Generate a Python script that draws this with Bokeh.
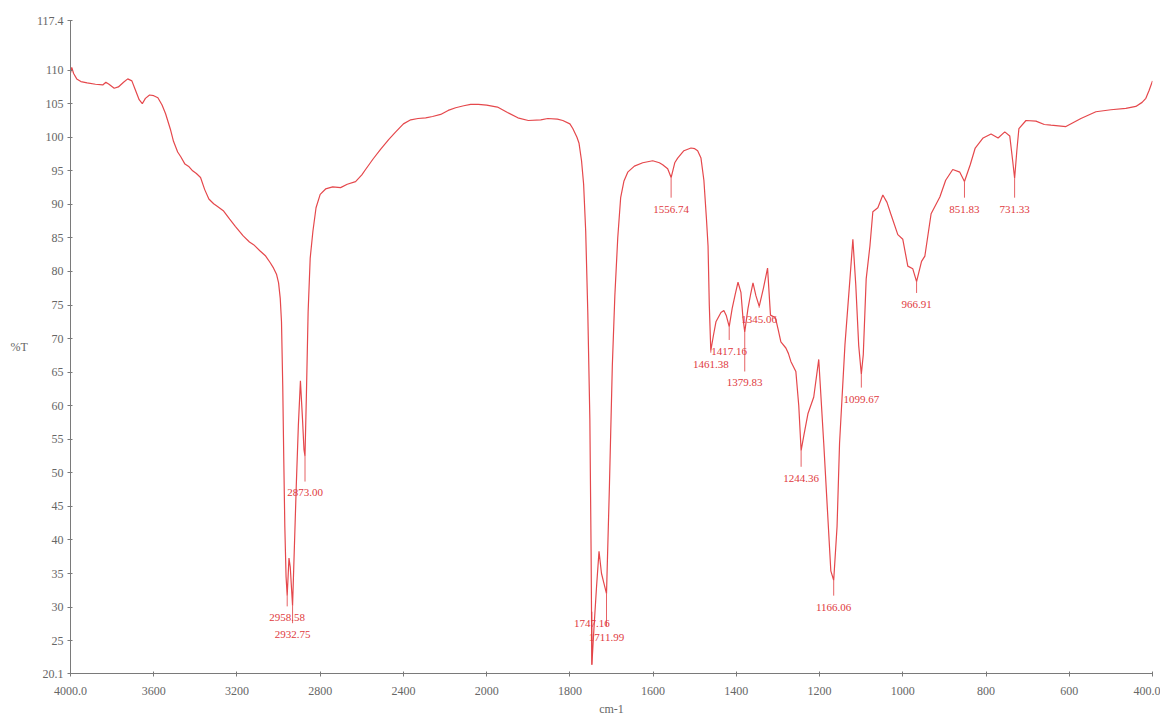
import numpy as np
from bokeh.plotting import figure
from bokeh.models import ColumnDataSource, Range1d, FixedTicker
from bokeh.core.properties import value
from bokeh.embed import file_html
from bokeh.resources import INLINE

# ---------------- data ----------------
wavenumber = [4000, 3994, 3985, 3970, 3950, 3920, 3880, 3845, 3830, 3815, 3790, 3770, 3745, 3725,
              3705, 3690, 3670, 3655, 3640, 3620, 3600, 3580, 3560, 3543, 3520, 3505, 3485, 3470,
              3450, 3430, 3413, 3395, 3375, 3355, 3335, 3312, 3290, 3264, 3235, 3207, 3170, 3140,
              3120, 3090, 3062, 3040, 3024, 3010, 3000, 2992, 2986, 2980, 2975, 2970, 2964,
              2958.58, 2950, 2944, 2932.75, 2925, 2915, 2905, 2895, 2885, 2878, 2873.0, 2866,
              2858, 2848, 2835, 2820, 2800, 2774, 2740, 2702, 2670, 2630, 2600, 2582, 2545, 2510,
              2470, 2437, 2400, 2365, 2330, 2293, 2260, 2221, 2185, 2149, 2110, 2077, 2040, 2000,
              1974, 1950, 1925, 1900, 1870, 1853, 1830, 1817, 1800, 1793, 1783, 1778, 1772, 1767,
              1762, 1757, 1752, 1749, 1747.16, 1742, 1736, 1730, 1724, 1718, 1711.99, 1705, 1698,
              1692, 1685, 1678, 1670, 1661, 1645, 1625, 1601, 1585, 1577, 1565, 1556.74, 1548,
              1541, 1526, 1509, 1500, 1493, 1485, 1478, 1472, 1468, 1465, 1461.38, 1455, 1449,
              1437, 1430, 1424, 1417.16, 1410, 1403, 1396, 1389, 1384, 1379.83, 1372, 1366, 1360,
              1353, 1345.06, 1335, 1325, 1318, 1306, 1300, 1293, 1281, 1275, 1269, 1257, 1250,
              1244.36, 1238, 1228, 1214, 1202, 1190, 1173, 1166.06, 1158, 1152, 1139, 1127, 1120,
              1113, 1106, 1099.67, 1095, 1088, 1079, 1072, 1060, 1048, 1038, 1029, 1012, 1000,
              988, 976, 966.91, 955, 947, 932, 911, 897, 880, 863, 851.83, 838, 826, 807, 788,
              771, 755, 743, 736, 731.33, 726, 721, 704, 680, 660, 644, 608, 590, 572, 536, 500,
              464, 440, 425, 416, 408, 400]
transmittance = [109.6, 110.4, 109.5, 108.7, 108.3, 108.1, 107.9, 107.8, 108.2, 107.9, 107.3, 107.5,
                 108.2, 108.7, 108.4, 107.2, 105.6, 105.0, 105.8, 106.3, 106.2, 105.9, 104.8, 103.5,
                 101.2, 99.4, 97.8, 97.1, 96.0, 95.6, 95.0, 94.6, 94.0, 92.2, 90.8, 90.1, 89.6, 89.0,
                 87.8, 86.7, 85.3, 84.4, 84.0, 83.1, 82.3, 81.3, 80.5, 79.6, 78.3, 76.0, 72.5, 63.0,
                 52.0, 42.0, 34.5, 31.7, 37.3, 36.0, 30.2, 38.0, 48.0, 57.0, 63.7, 58.0, 53.5, 52.5,
                 62.0, 74.0, 82.0, 86.0, 89.5, 91.5, 92.3, 92.6, 92.5, 93.0, 93.4, 94.4, 95.2, 96.8,
                 98.2, 99.7, 100.8, 102.0, 102.6, 102.8, 102.9, 103.1, 103.4, 104.0, 104.4, 104.7,
                 104.9, 104.9, 104.8, 104.5, 103.7, 102.9, 102.5, 102.6, 102.8, 102.7, 102.5, 102.0,
                 101.3, 100.0, 99.1, 96.5, 93.0, 86.0, 74.0, 58.0, 38.0, 21.4, 27.0, 33.0, 38.3,
                 35.0, 33.5, 32.0, 48.0, 66.0, 76.3, 85.0, 91.0, 93.5, 94.8, 95.7, 96.2, 96.5, 96.2,
                 95.9, 95.3, 94.0, 96.2, 96.9, 98.0, 98.4, 98.3, 98.0, 96.9, 93.6, 88.0, 83.8, 75.0,
                 68.2, 70.5, 72.5, 73.9, 74.2, 73.4, 71.8, 74.5, 76.5, 78.4, 76.9, 73.0, 71.0, 74.5,
                 76.5, 78.3, 76.4, 74.8, 77.5, 80.5, 73.5, 73.1, 71.5, 69.5, 68.6, 67.8, 66.6, 65.1,
                 60.0, 53.3, 55.5, 58.8, 61.3, 66.9, 54.4, 35.4, 34.0, 42.0, 54.4, 69.1, 78.9, 84.8,
                 78.0, 69.0, 64.7, 67.6, 78.9, 83.8, 88.9, 89.5, 91.4, 90.3, 88.6, 85.5, 84.8, 80.8,
                 80.4, 78.5, 81.5, 82.3, 88.6, 91.1, 93.6, 95.2, 94.8, 93.4, 95.9, 98.4, 99.9, 100.5,
                 99.9, 100.8, 100.2, 96.5, 93.9, 98.0, 101.3, 102.5, 102.4, 101.9, 101.8, 101.6,
                 102.2, 102.8, 103.8, 104.1, 104.3, 104.6, 105.2, 105.8, 107.0, 108.4]

peak_wn = [2958.58, 2932.75, 2873.00, 1747.16, 1711.99, 1556.74, 1461.38, 1417.16,
           1379.83, 1345.06, 1244.36, 1166.06, 1099.67, 966.91, 851.83, 731.33]
peak_labels = ["2958.58", "2932.75", "2873.00", "1747.16", "1711.99", "1556.74", "1461.38",
               "1417.16", "1379.83", "1345.06", "1244.36", "1166.06", "1099.67", "966.91",
               "851.83", "731.33"]
peak_T = [31.7, 30.2, 52.5, 21.4, 32.0, 94.0, 68.2, 71.8, 71.0, 74.8, 53.3, 34.0, 64.7, 78.5, 93.4, 93.9]
label_T = [28.4, 25.9, 47.0, 27.6, 25.4, 89.3, 66.2, 68.1, 63.4, 72.9, 49.2, 30.0, 61.0, 75.1, 89.3, 89.3]

x_tick_wn = [4000, 3600, 3200, 2800, 2400, 2000, 1800, 1600, 1400, 1200, 1000, 800, 600, 400]
x_tick_labels = ["4000.0", "3600", "3200", "2800", "2400", "2000", "1800", "1600", "1400",
                 "1200", "1000", "800", "600", "400.0"]
y_ticks = [20.1, 25, 30, 35, 40, 45, 50, 55, 60, 65, 70, 75, 80, 85, 90, 95, 100, 105, 110, 117.4]
y_tick_labels = ["20.1", "25", "30", "35", "40", "45", "50", "55", "60", "65", "70", "75", "80",
                 "85", "90", "95", "100", "105", "110", "117.4"]


# split wavenumber scale (4000-2000 compressed, 2000-400 expanded)
def xpos(w):
    w = np.asarray(w, dtype=float)
    return np.where(w >= 2000, (4000 - w) / 400.0, 5 + (2000 - w) / 200.0)


CURVE = "#e5484c"
LABEL = "#e03a3e"
AXIS = "#7a7a7a"
FONT = "Liberation Serif"

p = figure(width=1160, height=718, output_backend="svg", toolbar_location=None,
           x_range=Range1d(0, 13), y_range=Range1d(20.1, 117.4),
           min_border_left=70, min_border_right=8, min_border_top=20, min_border_bottom=34)
p.outline_line_color = None
p.xgrid.visible = False
p.ygrid.visible = False
p.background_fill_color = "white"

src = ColumnDataSource(dict(x=xpos(wavenumber), y=transmittance))
p.line("x", "y", source=src, line_color=CURVE, line_width=1.2)

px_ = xpos(peak_wn)
seg_top = list(peak_T)
seg_bot = [lt + 1.7 for lt in label_T]
lsrc = ColumnDataSource(dict(x=px_, y0=seg_top, y1=seg_bot, ly=label_T, text=peak_labels))
p.segment(x0="x", y0="y0", x1="x", y1="y1", source=lsrc, line_color=LABEL, line_width=0.8)
p.text(x="x", y="ly", text="text", source=lsrc, text_align="center", text_baseline="middle",
       text_font=value(FONT), text_font_size="11px", text_color=LABEL)

# axes
xt = [float(v) for v in xpos(x_tick_wn)]
p.xaxis.ticker = FixedTicker(ticks=xt)
p.xaxis.major_label_overrides = {t: l for t, l in zip(xt, x_tick_labels)}
p.yaxis.ticker = FixedTicker(ticks=y_ticks)
p.yaxis.major_label_overrides = {t: l for t, l in zip(y_ticks, y_tick_labels)}

for ax in (p.xaxis, p.yaxis):
    ax.axis_line_color = AXIS
    ax.major_tick_line_color = AXIS
    ax.minor_tick_line_color = None
    ax.major_tick_in = 2
    ax.major_tick_out = 3
    ax.major_label_text_font = FONT
    ax.major_label_text_font_size = "12px"
    ax.major_label_text_color = "#666666"
    ax.axis_label_text_font = FONT
    ax.axis_label_text_font_size = "12px"
    ax.axis_label_text_font_style = "normal"
    ax.axis_label_text_color = "#666666"

p.xaxis.major_label_standoff = 10
p.xaxis.axis_label = "cm-1"
p.xaxis.axis_label_standoff = 4
p.yaxis.major_label_standoff = 4
p.yaxis.axis_label = "%T"
p.yaxis.axis_label_orientation = "horizontal"
p.yaxis.axis_label_standoff = 6

open("out.html", "w").write(file_html(p, INLINE))
